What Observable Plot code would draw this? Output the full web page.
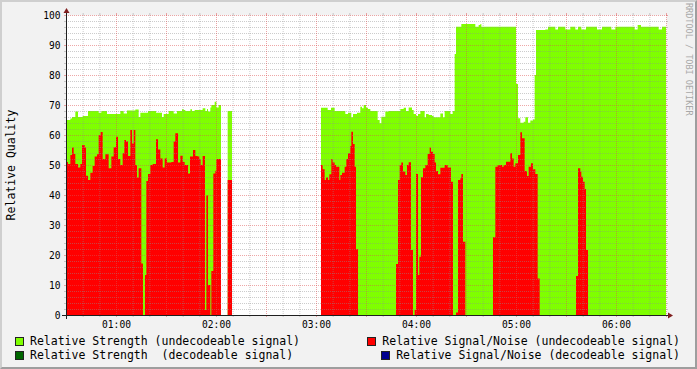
<!DOCTYPE html>
<html>
<head>
<meta charset="utf-8">
<script src="https://cdn.jsdelivr.net/npm/d3@7"></script>
<script src="https://cdn.jsdelivr.net/npm/@observablehq/plot@0.6"></script>
<style>
html,body{margin:0;padding:0;background:#f2f2f2;}
#wrap{position:relative;width:697px;height:369px;background:#f2f2f2;overflow:hidden;font-family:"DejaVu Sans Mono",monospace;color:#000;}
#wrap svg{position:absolute;left:0;top:0;}
#shade{position:absolute;left:0;top:0;width:697px;height:369px;box-sizing:border-box;border-top:2px solid #cfcfcf;border-left:2px solid #cfcfcf;border-right:2px solid #9e9e9e;border-bottom:2px solid #9e9e9e;pointer-events:none;}
.lg{position:absolute;display:flex;align-items:center;gap:6px;font-size:11.5px;line-height:12px;white-space:pre;}
.sw{display:inline-block;width:7px;height:7px;border:1px solid #222;}
#ylab{position:absolute;left:11px;top:165px;transform:translate(-50%,-50%) rotate(-90deg);font-size:11.5px;white-space:pre;}
#wm{position:absolute;left:684px;top:3px;writing-mode:vertical-rl;font-size:8.5px;color:#a8a8a8;white-space:pre;}
</style>
</head>
<body>
<div id="wrap">
  <div id="ylab">Relative Quality</div>
  <div id="wm">RRDTOOL / TOBI OETIKER</div>
  <div id="legend"></div>
  <div id="shade"></div>
</div>
<script>
// ---- data (minutes after 00:00, step values; null = no data) ----
const domainStart = 30, domainEnd = 390, dataEnd = 390;
const hourTicks = [60, 120, 180, 240, 300, 360];
const yTicks = [0, 10, 20, 30, 40, 50, 60, 70, 80, 90, 100];

const strengthMin = [30.6,32.6,33.6,35.6,37.2,40,43.2,49.6,51.2,54.6,
  62.6,64.6,66.6,71.6,73.6,74.6,79.2,84,87.6,88.6,
  91.6,94.6,96.6,99.6,100.6,101.6,104.6,105.6,107.2,112,
  113.6,114.6,115.2,116.6,117.2,119.2,120.2,121.6,123,127,
  129.6,183,187,189,191.2,197.6,199.2,201.2,202.2,204.6,
  206.6,207.6,208.6,210,211.2,212.6,217,218.2,219.2,221.6,
  223.6,230.6,232.6,234,235.6,237.6,238.6,240,241.2,242.6,
  245.2,246,247.6,249.6,250.6,254.6,256.2,257.2,260.6,262,
  263.2,264,267.2,275.6,277.6,278.6,279.2,300,301.2,302.6,
  304.6,305.6,307.2,308.6,310.2,311.2,312,317.6,319.2,323.6,
  325.2,329.6,332.6,335.6,337.2,339.2,342,348.6,351.6,357.2,
  359.6,371.2,373,375,385.6,387.6];
const strengthVal = [65,65.5,66,67.8,66,66.3,68,67.4,68,67,
  68,67.2,68.2,68.5,66,67.4,68,67.4,66,67,
  68,67.2,68,68.6,68.3,68,68.6,68,68.3,68.9,
  68,68.7,67.8,69.2,70,71.1,69.2,70,null,68,
  null,69.1,68.3,69.1,68,67,67.4,65.9,67,67.4,
  69.4,68.9,70,69.1,68.7,68,65,63.9,66.1,67.8,
  68,68.7,69.1,68,69.2,68.3,67,66.3,67,68,
  65.9,67,66.7,66.3,65.9,67.2,65.9,68,67,68,
  87,96.1,97,96.1,96.7,97,96.1,77,65.6,64.1,
  64.4,65.9,64.1,64.8,65.2,80,95,95.2,96.1,95.2,
  96.1,95.2,96.1,95.2,96.1,95.2,96.1,95.2,96.1,95.2,
  96.1,95.2,96.7,96.1,95.2,96.1];

const snrMin = [30.6,31.2,32.6,33.6,34.6,35.6,37.2,38.6,39.6,41.2,
  42,43.2,44.6,46,47.2,48.6,49.6,50.8,52,53.6,
  55.6,57.2,58.6,60,61.2,62.6,64,65,66,67.2,
  68.6,69.6,70.6,71.6,72.6,73.6,75.2,76.2,77.4,78.2,
  79.2,80.6,82,84,85.2,86.6,88,89.2,90.6,93.2,
  94.6,95.6,97.2,98.6,100,101.2,103.2,104.4,106.2,107.6,
  109,110,110.8,112,113.4,114.2,115.2,116.6,117.2,118.4,
  119.6,120.2,123,127,129.6,183,184,185.2,186,187.2,
  188,189.2,190,191.2,192,194,194.6,195.6,197.2,198.2,
  199.2,200.6,201.2,202.2,203.2,204,205.2,228,229.2,230.2,
  231.2,232.2,233.6,234.6,235.6,237,238.2,239.2,240,241.2,
  242,243,244.2,245.6,247,248.2,249,250.2,251.2,252,
  253.2,254.6,257.2,259,261,262.2,264,265.2,266.6,267.2,
  268.2,269.6,286.2,287.6,289,291.6,292.6,294,296.6,297.6,
  298.6,299.6,301.2,302.6,303.6,305.2,306.6,307.6,309,310.2,
  311.6,313,314.2,336,337.2,338.6,339.2,340.2,341.2,342,
  343.2];
const snrVal = [51,50.3,53.3,55.8,53.7,50.3,49.2,50.3,56.7,55.8,
  46.4,45,47.4,49.7,52.8,53.6,60,61,52,53.6,
  48.9,52.8,55.9,59.4,52,50,53.9,58.3,57.8,53,
  61.7,57.2,61.7,50,45.8,48.9,17.2,0,13.3,44.7,
  47,50,50.3,58.6,55.2,52.2,49.2,52.2,50.8,51,
  57.8,60.6,50.8,53.1,51,50,47.2,52.8,55,53,
  52.8,52,50,53,1.7,39.8,10,0,14.7,47.2,
  48.1,52,null,45,null,50,48.6,45,45.8,45,
  46.9,52,50.8,50,49.4,45,46.7,47.4,49.4,52,
  53.9,56.3,61.1,57,49.4,21.9,0,17,45,50,
  50.8,47.8,46.7,50,50.9,21.7,0,1.7,47,13.3,
  19.4,45.9,48.9,50,53.7,55.8,54.4,53.7,50.8,48,
  46.9,49.1,50,49.2,44.4,0,0.8,45,45.6,47,
  24.4,0,25.9,49.4,50,49.4,50,51.1,53.9,52.2,
  49.4,50.6,53.3,60.9,58.9,48,46.3,49.4,50.6,48.6,
  47,12.2,0,13,48.9,47.8,46.1,44.4,42,21.7,
  0];

const legendLabels = [
  "Relative Strength (undecodeable signal)",
  "Relative Signal/Noise (undecodeable signal)",
  "Relative Strength  (decodeable signal)",
  "Relative Signal/Noise (decodeable signal)"
];
const legendColors = ["#7fff00", "#ff0000", "#006600", "#000090"];

// ---- helpers ----
const base = Date.UTC(2024, 0, 1, 0, 0, 0);
const toDate = m => new Date(base + m * 60000);
function steps(mins, vals, end) {
  const out = [];
  for (let i = 0; i < mins.length; i++) {
    out.push({t: toDate(mins[i]), v: vals[i]});
    const last = i === mins.length - 1;
    if (vals[i] != null && (last || vals[i + 1] == null)) {
      out.push({t: toDate(last ? end : mins[i + 1]), v: vals[i]});
    }
  }
  return out;
}
const strengthPts = steps(strengthMin, strengthVal, dataEnd);
const snrPts = steps(snrMin, snrVal, dataEnd);

const minorX = d3.range(domainStart + 10, domainEnd, 10).filter(m => m % 30 !== 0);
const majorX = d3.range(domainStart + 30, domainEnd + 1, 30);
const minorY = d3.range(2, 100, 2).filter(v => v % 10 !== 0);
const majorY = d3.range(10, 101, 10);

const gridC = "rgba(143,143,143,0.45)";
const mgridC = "rgba(222,79,79,0.5)";

const plot = Plot.plot({
  width: 697, height: 330,
  marginLeft: 66, marginRight: 31, marginTop: 15, marginBottom: 15,
  style: {background: "transparent", fontFamily: "'DejaVu Sans Mono', monospace", fontSize: "9.6px", color: "#000", overflow: "visible"},
  x: {type: "utc", domain: [toDate(domainStart), toDate(domainEnd)], ticks: hourTicks.map(toDate),
      tickFormat: d3.utcFormat("%H:%M"), tickSize: 0, tickPadding: 6, label: null},
  y: {domain: [0, 100], ticks: yTicks, tickSize: 0, tickPadding: 6, label: null},
  marks: [
    Plot.frame({fill: "#ffffff", stroke: null}),
    Plot.areaY(strengthPts, {x: "t", y: "v", curve: "step-after", fill: legendColors[0]}),
    Plot.areaY(snrPts, {x: "t", y: "v", curve: "step-after", fill: legendColors[1]}),
    Plot.ruleY(minorY, {stroke: gridC, strokeDasharray: "1,1"}),
    Plot.ruleX(minorX.map(toDate), {stroke: gridC, strokeDasharray: "1,1"}),
    Plot.ruleY(majorY, {stroke: mgridC, strokeDasharray: "1,1"}),
    Plot.ruleX(majorX.map(toDate), {stroke: mgridC, strokeDasharray: "1,1"})
  ]
});

const xs = plot.scale("x"), ys = plot.scale("y");
const X0 = xs.range[0], X1 = xs.range[1], Y0 = ys.range[0], Y1 = ys.range[1];
const svg = d3.select(plot);
const g = svg.append("g");
// solid grid stubs outside the canvas
minorY.concat(majorY).forEach(v => {
  const y = ys.apply(v) + 0.5, c = v % 10 === 0 ? mgridC : gridC;
  g.append("line").attr("x1", X0 - 2).attr("x2", X0).attr("y1", y).attr("y2", y).attr("stroke", c);
  g.append("line").attr("x1", X1).attr("x2", X1 + 2).attr("y1", y).attr("y2", y).attr("stroke", c);
});
minorX.concat(majorX).forEach(m => {
  const x = xs.apply(toDate(m)) + 0.5, c = m % 30 === 0 ? mgridC : gridC;
  g.append("line").attr("x1", x).attr("x2", x).attr("y1", Y1 - 2).attr("y2", Y1).attr("stroke", c);
  g.append("line").attr("x1", x).attr("x2", x).attr("y1", Y0).attr("y2", Y0 + 2).attr("stroke", c);
});
// axes with arrows
const ay = Y0 + 0.5, ax = X0 + 0.5;
g.append("line").attr("x1", X0 - 4).attr("x2", X1 + 4).attr("y1", ay).attr("y2", ay).attr("stroke", "#1f1f1f");
g.append("line").attr("x1", ax).attr("x2", ax).attr("y1", Y0 + 4).attr("y2", Y1 - 4).attr("stroke", "#1f1f1f");
g.append("polygon").attr("points", [[X1 + 2, ay - 3], [X1 + 2, ay + 3], [X1 + 7, ay]].join(" ")).attr("fill", "#801f1f");
g.append("polygon").attr("points", [[ax - 3, Y1 - 2], [ax + 3, Y1 - 2], [ax, Y1 - 7]].join(" ")).attr("fill", "#801f1f");

document.getElementById("wrap").insertBefore(plot, document.getElementById("ylab"));

// legend
const lg = d3.select("#legend");
const pos = [
  {left: "15px", top: "335px"}, {right: "17px", top: "335px"},
  {left: "15px", top: "349px"}, {right: "17px", top: "349px"}
];
legendLabels.forEach((t, i) => {
  const d = lg.append("div").attr("class", "lg");
  Object.entries(pos[i]).forEach(([k, v]) => d.style(k, v));
  d.append("span").attr("class", "sw").style("background", legendColors[i]);
  d.append("span").text(t);
});
</script>
</body>
</html>
